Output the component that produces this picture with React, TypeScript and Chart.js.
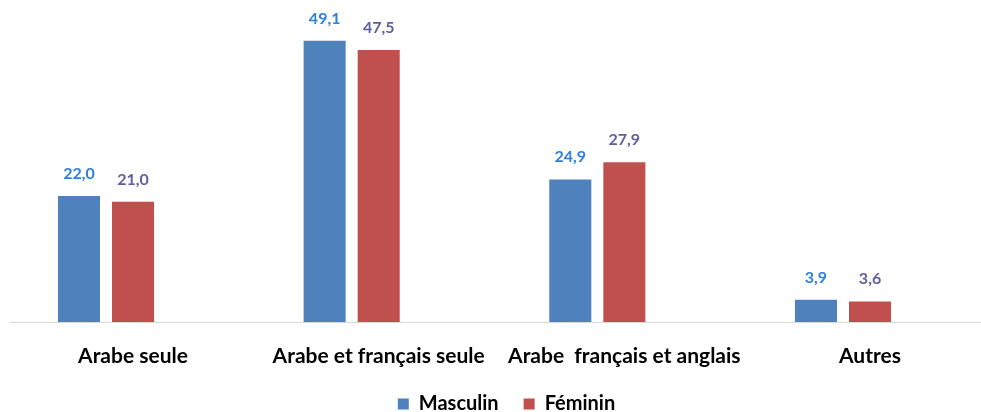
import React, { useEffect, useRef } from "react";
import { Chart, registerables } from "chart.js";

Chart.register(...registerables);

const categories = ["Arabe seule", "Arabe et français seule", "Arabe  français et anglais", "Autres"];
const masculin = [22.0, 49.1, 24.9, 3.9];
const feminin = [21.0, 47.5, 27.9, 3.6];
const seriesNames = ["Masculin", "Féminin"];

const FONT = "Lato, 'Open Sans', sans-serif";

const valueLabels = {
  id: "valueLabels",
  afterDatasetsDraw(chart: any) {
    const ctx = chart.ctx;
    const colors = ["#2F80D8", "#5F5F9E"];
    chart.data.datasets.forEach((ds: any, di: number) => {
      const meta = chart.getDatasetMeta(di);
      meta.data.forEach((bar: any, i: number) => {
        const v = ds.data[i] as number;
        ctx.save();
        ctx.font = `bold 16px ${FONT}`;
        ctx.fillStyle = colors[di];
        ctx.textAlign = "center";
        ctx.textBaseline = "alphabetic";
        ctx.fillText(v.toFixed(1).replace(".", ","), bar.x, bar.y - 17);
        ctx.restore();
      });
    });
  },
};

const baseLine = {
  id: "baseLine",
  beforeDatasetsDraw(chart: any) {
    const ctx = chart.ctx;
    const y = Math.round(chart.scales.y.getPixelForValue(0)) + 0.5;
    ctx.save();
    ctx.strokeStyle = "#D9D9D9";
    ctx.lineWidth = 1;
    ctx.beginPath();
    ctx.moveTo(10, y);
    ctx.lineTo(chart.width, y);
    ctx.stroke();
    ctx.restore();
  },
};

export default function App() {
  const ref = useRef<HTMLCanvasElement>(null);
  useEffect(() => {
    document.body.style.margin = "0";
    const chart = new Chart(ref.current!, {
      type: "bar",
      data: {
        labels: categories,
        datasets: [
          { label: seriesNames[0], data: masculin, backgroundColor: "#4F81BD" },
          { label: seriesNames[1], data: feminin, backgroundColor: "#C0504D" },
        ],
      },
      options: {
        animation: false,
        responsive: false,
        maintainAspectRatio: false,
        datasets: { bar: { clip: false as any, categoryPercentage: 0.44, barPercentage: 0.778 } },
        layout: { padding: { top: 7, left: 32, right: 0, bottom: -12 } },
        scales: {
          x: {
            offset: false,
            grid: { display: false, drawTicks: false },
            border: { display: false },
            ticks: {
              autoSkip: false,
              maxRotation: 0,
              minRotation: 0,
              labelOffset: 27,
              padding: 22,
              color: "#000",
              font: { family: FONT, size: 21, weight: "bold" },
            },
            afterFit: (s: any) => { s.height = 47; },
          },
          y: {
            min: 0,
            max: 55,
            grid: { display: false },
            border: { display: false },
            ticks: { display: false },
            afterFit: (s: any) => { s.width = 74; },
          },
          yRight: {
            display: true,
            position: "right",
            min: 0,
            max: 55,
            grid: { display: false },
            border: { display: false },
            ticks: { display: false },
            afterFit: (s: any) => { s.width = 138; },
          },
        },
        plugins: {
          legend: {
            position: "bottom",
            labels: {
              boxWidth: 11,
              boxHeight: 11,
              padding: 25,
              color: "#000",
              font: { family: FONT, size: 20, weight: "bold" },
            },
          },
          tooltip: { enabled: false },
        },
      },
      plugins: [valueLabels, baseLine],
    });
    return () => chart.destroy();
  }, []);
  return <canvas ref={ref} width={981} height={412} style={{ display: "block" }} />;
}
